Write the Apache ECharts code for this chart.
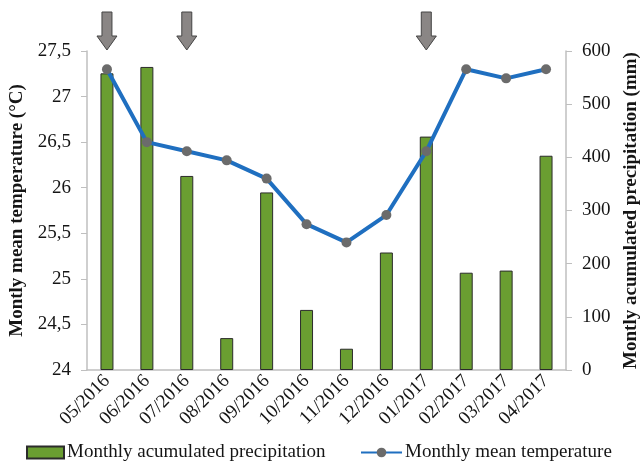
<!DOCTYPE html>
<html>
<head>
<meta charset="utf-8">
<script src="https://cdn.jsdelivr.net/npm/echarts@6/dist/echarts.min.js"></script>
<style>
  html, body { margin: 0; padding: 0; background: #fff; }
  #chart { width: 642px; height: 464px; }
</style>
</head>
<body>
<div id="chart"></div>
<script>
// Monthly series, May 2016 – April 2017
const months = ['05/2016', '06/2016', '07/2016', '08/2016', '09/2016', '10/2016',
                '11/2016', '12/2016', '01/2017', '02/2017', '03/2017', '04/2017'];
const precipitation = [558, 570, 365, 60, 334, 113, 40, 221, 439, 183, 187, 403];
const temperature = [27.3, 26.5, 26.4, 26.3, 26.1, 25.6, 25.4, 25.7, 26.4, 27.3, 27.2, 27.3];
// Months flagged with an arrow above the plot
const markedMonths = ['05/2016', '07/2016', '01/2017'];

const FONT = '"Liberation Serif", "Times New Roman", serif';
const AXIS_GREY = '#bfbfbf';
const TEXT = '#151515';

const chart = echarts.init(document.getElementById('chart'), null, { renderer: 'canvas' });

const option = {
  backgroundColor: '#fff',
  animation: false,
  textStyle: { fontFamily: FONT },
  grid: { left: 87, right: 76, top: 51, bottom: 94, containLabel: false, outerBoundsMode: 'none' },
  legend: [
    {
      data: [{ name: 'Monthly acumulated precipitation', icon: 'rect' }],
      left: 21, top: 438,
      itemWidth: 37, itemHeight: 12,
      textStyle: { fontFamily: FONT, fontSize: 19, color: TEXT, padding: [0, 0, 0, -2] }
    },
    {
      data: ['Monthly mean temperature'],
      left: 355, top: 438,
      itemWidth: 41, itemHeight: 12,
      textStyle: { fontFamily: FONT, fontSize: 19, color: TEXT, padding: [0, 0, 0, -2] }
    }
  ],
  xAxis: {
    type: 'category',
    data: months,
    axisLine: { show: true, lineStyle: { color: AXIS_GREY, width: 1.5 } },
    axisTick: { show: false },
    axisLabel: {
      interval: 0, rotate: 45, margin: 8,
      fontFamily: FONT, fontSize: 19, color: TEXT
    }
  },
  yAxis: [
    {
      type: 'value',
      min: 24, max: 27.5, interval: 0.5,
      name: 'Montly mean temperature (°C)',
      nameLocation: 'middle', nameRotate: 90, nameGap: 52,
      nameTextStyle: { fontFamily: FONT, fontSize: 19, fontWeight: 'bold', color: TEXT },
      axisLine: { show: true, lineStyle: { color: AXIS_GREY, width: 1.5 } },
      axisTick: { show: true, length: 6, lineStyle: { color: AXIS_GREY } },
      splitLine: { show: false },
      axisLabel: {
        fontFamily: FONT, fontSize: 19, color: TEXT, margin: 16,
        formatter: v => String(v).replace('.', ',')
      }
    },
    {
      type: 'value',
      min: 0, max: 600, interval: 100,
      name: 'Montly acumulated precipitation (mm)',
      nameLocation: 'middle', nameRotate: 90, nameGap: 54,
      nameTextStyle: { fontFamily: FONT, fontSize: 19, fontWeight: 'bold', color: TEXT },
      axisLine: { show: true, lineStyle: { color: AXIS_GREY, width: 1.5 } },
      axisTick: { show: true, length: 6, lineStyle: { color: AXIS_GREY } },
      splitLine: { show: false },
      axisLabel: { fontFamily: FONT, fontSize: 19, color: TEXT, margin: 16 }
    }
  ],
  series: [
    {
      name: 'Monthly acumulated precipitation',
      type: 'bar',
      yAxisIndex: 1,
      data: precipitation,
      barWidth: 13,
      itemStyle: { color: '#6a9e31', borderColor: '#2b2b2b', borderWidth: 1 }
    },
    {
      name: 'Monthly mean temperature',
      type: 'line',
      yAxisIndex: 0,
      data: temperature,
      symbol: 'circle',
      symbolSize: 10,
      lineStyle: { color: '#1f6fc0', width: 4 },
      itemStyle: { color: '#6b6b6b' },
      z: 5
    }
  ]
};

chart.setOption(option);

// Down arrows above the flagged months, placed through the category axis
const arrowGraphics = markedMonths.map(m => {
  const cx = chart.convertToPixel({ xAxisIndex: 0 }, m);
  return {
    type: 'polygon',
    shape: {
      points: [
        [cx - 5, 12], [cx + 5, 12], [cx + 5, 36], [cx + 10, 36],
        [cx, 50], [cx - 10, 36], [cx - 5, 36]
      ]
    },
    style: { fill: '#8a8685', stroke: '#444', lineWidth: 1 }
  };
});
chart.setOption({ graphic: arrowGraphics });
</script>
</body>
</html>
